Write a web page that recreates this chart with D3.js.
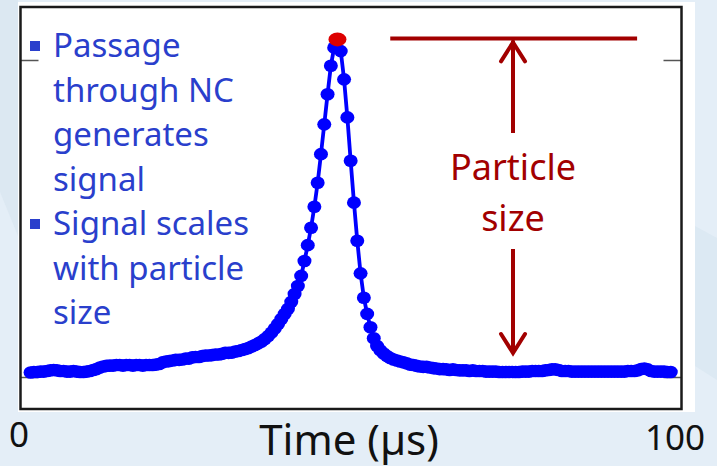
<!DOCTYPE html>
<html>
<head>
<meta charset="utf-8">
<script src="https://cdn.jsdelivr.net/npm/d3@7"></script>
<style>
  html, body { margin: 0; padding: 0; background: #e3edf6; }
  svg { display: block; }
</style>
</head>
<body>
<svg id="chart" width="717" height="466"></svg>
<script>
// ---- data (time in µs, signal in relative units: 0 = lower tick, 1 = upper tick) ----
const times = [
  1.6, 2.1, 2.6, 3.1, 3.6, 4.1, 4.6, 5.1, 5.6, 6.1,
  6.6, 7.1, 7.6, 8.1, 8.6, 9.1, 9.6, 10.1, 10.6, 11.1,
  11.6, 12.1, 12.6, 13.1, 13.6, 14.1, 14.6, 15.1, 15.6, 16.1,
  16.6, 17.1, 17.6, 18.1, 18.6, 19.1, 19.6, 20.1, 20.6, 21.1,
  21.6, 22.1, 22.6, 23.1, 23.6, 24.1, 24.6, 25.1, 25.6, 26.1,
  26.6, 27.1, 27.6, 28.1, 28.6, 29.1, 29.6, 30.1, 30.6, 31.1,
  31.6, 32.1, 32.6, 33.1, 33.6, 34.1, 34.6, 35.1, 35.6, 36.1,
  36.6, 37.1, 37.6, 38.1, 38.6, 39.1, 39.6, 40.1, 40.6, 41.1,
  41.6, 42.1, 42.6, 43.1, 43.6, 44.1, 44.6, 45.1, 45.6, 46.1,
  46.6, 47.1, 47.6, 48.1, 48.6, 49.1, 49.6, 50.1, 50.6, 51.1,
  51.6, 52.1, 52.6, 53.1, 53.6, 54.1, 54.6, 55.1, 55.6, 56.1,
  56.6, 57.1, 57.6, 58.1, 58.6, 59.1, 59.6, 60.1, 60.6, 61.1,
  61.6, 62.1, 62.6, 63.1, 63.6, 64.1, 64.6, 65.1, 65.6, 66.1,
  66.6, 67.1, 67.6, 68.1, 68.6, 69.1, 69.6, 70.1, 70.6, 71.1,
  71.6, 72.1, 72.6, 73.1, 73.6, 74.1, 74.6, 75.1, 75.6, 76.1,
  76.6, 77.1, 77.6, 78.1, 78.6, 79.1, 79.6, 80.1, 80.6, 81.1,
  81.6, 82.1, 82.6, 83.1, 83.6, 84.1, 84.6, 85.1, 85.6, 86.1,
  86.6, 87.1, 87.6, 88.1, 88.6, 89.1, 89.6, 90.1, 90.6, 91.1,
  91.6, 92.1, 92.6, 93.1, 93.6, 94.1, 94.6, 95.1, 95.6, 96.1,
  96.6, 97.1, 97.6, 98.1, 98.6
];
const signal = [
  0.014, 0.016, 0.016, 0.017, 0.017, 0.019, 0.021, 0.022, 0.021, 0.019,
  0.019, 0.017, 0.017, 0.019, 0.017, 0.016, 0.016, 0.017, 0.019, 0.022,
  0.025, 0.030, 0.033, 0.035, 0.036, 0.036, 0.038, 0.038, 0.036, 0.038,
  0.038, 0.036, 0.038, 0.038, 0.036, 0.038, 0.038, 0.038, 0.039, 0.041,
  0.046, 0.049, 0.050, 0.052, 0.054, 0.054, 0.055, 0.058, 0.058, 0.062,
  0.063, 0.063, 0.066, 0.068, 0.068, 0.069, 0.071, 0.071, 0.073, 0.076,
  0.076, 0.077, 0.080, 0.082, 0.085, 0.088, 0.091, 0.096, 0.101, 0.106,
  0.112, 0.120, 0.129, 0.140, 0.153, 0.167, 0.183, 0.199, 0.215, 0.237,
  0.262, 0.287, 0.319, 0.366, 0.416, 0.471, 0.537, 0.613, 0.703, 0.797,
  0.892, 0.982, 1.039, 1.065, 1.028, 0.939, 0.819, 0.682, 0.550, 0.430,
  0.327, 0.250, 0.199, 0.157, 0.122, 0.098, 0.084, 0.074, 0.066, 0.060,
  0.055, 0.052, 0.049, 0.046, 0.043, 0.039, 0.038, 0.035, 0.033, 0.032,
  0.032, 0.030, 0.028, 0.027, 0.025, 0.025, 0.024, 0.022, 0.024, 0.022,
  0.021, 0.021, 0.021, 0.019, 0.021, 0.019, 0.019, 0.019, 0.017, 0.017,
  0.017, 0.017, 0.016, 0.016, 0.016, 0.016, 0.016, 0.016, 0.016, 0.017,
  0.017, 0.017, 0.019, 0.019, 0.019, 0.019, 0.021, 0.022, 0.024, 0.024,
  0.022, 0.019, 0.019, 0.019, 0.017, 0.017, 0.017, 0.017, 0.017, 0.017,
  0.017, 0.017, 0.017, 0.017, 0.017, 0.017, 0.017, 0.017, 0.017, 0.017,
  0.017, 0.019, 0.019, 0.019, 0.021, 0.025, 0.027, 0.024, 0.019, 0.017,
  0.017, 0.017, 0.017, 0.016, 0.016
];
const xTickValues = [0, 100];
const xTickLabels = ["0", "100"];
const yTickValues = [0, 1];
const xAxisTitle = "Time (µs)";
const bulletItems = [
  ["Passage", "through NC", "generates", "signal"],
  ["Signal scales", "with particle", "size"]
];
const annotationLines = ["Particle", "size"];

// ---- drawing ----
const svg = d3.select("#chart");
const FONT = "'Noto Sans', 'Open Sans', sans-serif";

// background shading
svg.append("rect").attr("width", 717).attr("height", 466).attr("fill", "#e4eef7");
svg.append("polygon").attr("points", "0,0 18,0 18,236 0,192").attr("fill", "#dce8f2");
svg.append("polygon").attr("points", "695,226 717,238 717,380 695,366").attr("fill", "#dce9f3");

// white panel
svg.append("rect").attr("x", 18).attr("y", 2).attr("width", 677).attr("height", 410).attr("fill", "#ffffff");

const frame = {left: 20.5, top: 7, right: 681.5, bottom: 409};
const x = d3.scaleLinear().domain([0, 100]).range([20, 680]);
const y = d3.scaleLinear().domain([0, 1]).range([377, 60]);

// ticks (inward) on left and right
const leftAxis = d3.axisLeft(y).tickValues(yTickValues).tickSize(-18).tickFormat("");
const rightAxis = d3.axisRight(y).tickValues(yTickValues).tickSize(-18).tickFormat("");
const gl = svg.append("g").attr("transform", `translate(${frame.left},0)`).call(leftAxis);
const gr = svg.append("g").attr("transform", `translate(${frame.right},0)`).call(rightAxis);
[gl, gr].forEach(g => {
  g.select(".domain").remove();
  g.selectAll(".tick line").attr("stroke", "#555").attr("stroke-width", 1.5);
});

// frame
svg.append("rect")
  .attr("x", frame.left).attr("y", frame.top)
  .attr("width", frame.right - frame.left).attr("height", frame.bottom - frame.top)
  .attr("fill", "none").attr("stroke", "#1a1a1a").attr("stroke-width", 2.5);

// data
const pts = times.map((t, i) => ({t, v: signal[i]}));
const line = d3.line().x(d => x(d.t)).y(d => y(d.v));
svg.append("path").datum(pts).attr("d", line)
  .attr("fill", "none").attr("stroke", "#0000ff").attr("stroke-width", 3.8)
  .attr("stroke-linejoin", "round");
svg.append("g").selectAll("ellipse").data(pts).join("ellipse")
  .attr("cx", d => x(d.t)).attr("cy", d => y(d.v))
  .attr("rx", 7).attr("ry", 6.3).attr("fill", "#0000ff");

const peak = pts.reduce((a, b) => (b.v > a.v ? b : a));
svg.append("ellipse").attr("cx", x(peak.t)).attr("cy", y(peak.v))
  .attr("rx", 9).attr("ry", 7).attr("fill", "#dd0000");

// annotation: particle size
const dark = "#a20000";
const ax = x(74.7);
const topY = y(peak.v) - 1;
svg.append("line").attr("x1", x(56.1)).attr("x2", x(93.5)).attr("y1", topY).attr("y2", topY)
  .attr("stroke", dark).attr("stroke-width", 4);
svg.append("line").attr("x1", ax).attr("x2", ax).attr("y1", 133).attr("y2", topY + 2)
  .attr("stroke", dark).attr("stroke-width", 4);
svg.append("polyline").attr("points", `${ax-12},${topY+23} ${ax},${topY+4} ${ax+12},${topY+23}`)
  .attr("fill", "none").attr("stroke", dark).attr("stroke-width", 4)
  .attr("stroke-linecap", "round").attr("stroke-linejoin", "miter");
svg.append("line").attr("x1", ax).attr("x2", ax).attr("y1", 249).attr("y2", 353)
  .attr("stroke", dark).attr("stroke-width", 4);
svg.append("polyline").attr("points", `${ax-12},334 ${ax},353 ${ax+12},334`)
  .attr("fill", "none").attr("stroke", dark).attr("stroke-width", 4)
  .attr("stroke-linecap", "round").attr("stroke-linejoin", "miter");
svg.append("g").selectAll("text").data(annotationLines).join("text")
  .attr("x", ax).attr("y", (d, i) => 180 + i * 51)
  .attr("text-anchor", "middle").attr("font-family", FONT).attr("font-size", 36)
  .attr("fill", dark).text(d => d);

// bullet text
const blue = "#2a3fcc";
let lineIdx = 0;
bulletItems.forEach(item => {
  item.forEach((txt, k) => {
    const by = 57 + lineIdx * 44.5;
    if (k === 0) {
      svg.append("rect").attr("x", 30).attr("y", by - 16).attr("width", 10).attr("height", 10).attr("fill", blue);
    }
    svg.append("text").attr("x", 53).attr("y", by)
      .attr("font-family", FONT).attr("font-size", 33).attr("fill", blue).text(txt);
    lineIdx++;
  });
});

// x labels
svg.append("g").selectAll("text").data(xTickValues).join("text")
  .attr("x", (d, i) => x(d) + (i === 0 ? -1 : -5))
  .attr("y", (d, i) => (i === 0 ? 447 : 450))
  .attr("text-anchor", "middle").attr("font-family", FONT).attr("font-size", 35)
  .attr("fill", "#111").text((d, i) => xTickLabels[i]);
svg.append("text").attr("x", 349).attr("y", 455).attr("text-anchor", "middle")
  .attr("font-family", FONT).attr("font-size", 42).attr("fill", "#111").text(xAxisTitle);
</script>
</body>
</html>
